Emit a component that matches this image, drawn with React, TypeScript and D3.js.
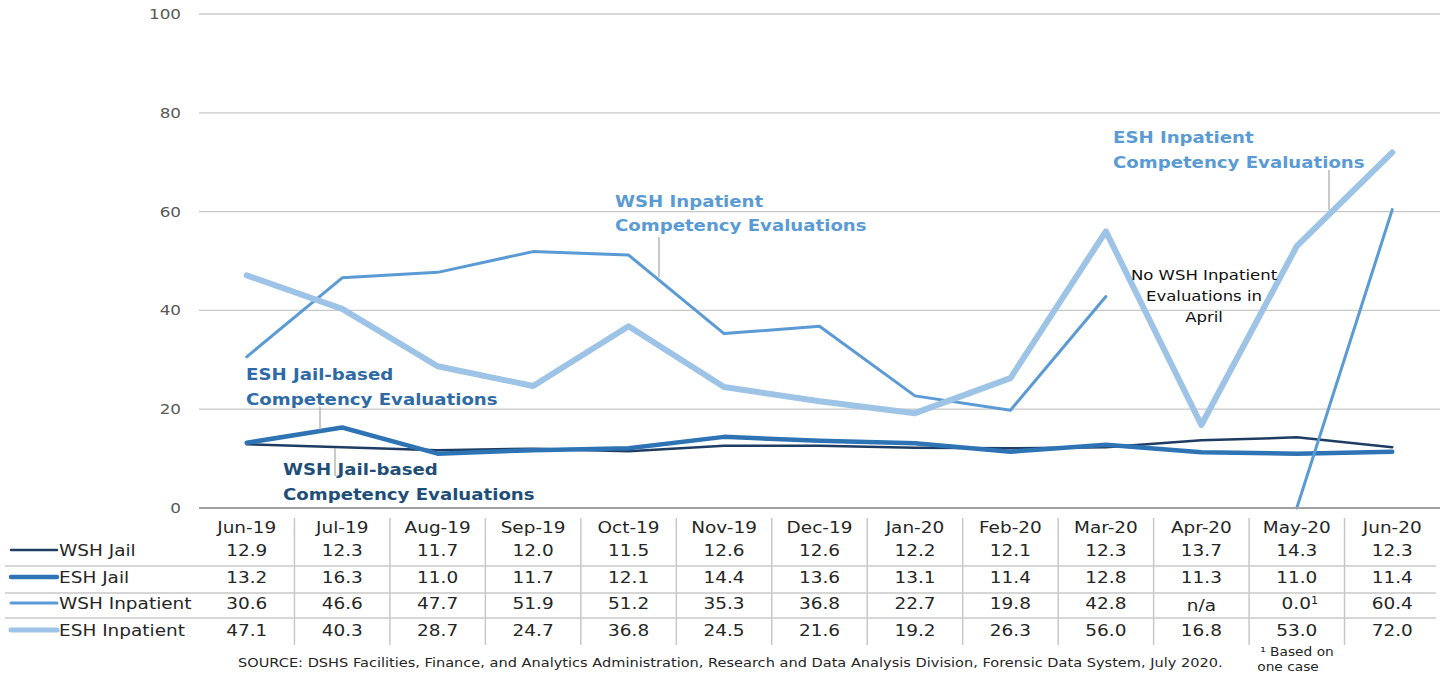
import React from "react"
import * as d3 from "d3"

// months along the x axis
const months = ["Jun-19", "Jul-19", "Aug-19", "Sep-19", "Oct-19", "Nov-19", "Dec-19", "Jan-20", "Feb-20", "Mar-20", "Apr-20", "May-20", "Jun-20"]

const wshJail = [12.9, 12.3, 11.7, 12.0, 11.5, 12.6, 12.6, 12.2, 12.1, 12.3, 13.7, 14.3, 12.3]
const eshJail = [13.2, 16.3, 11.0, 11.7, 12.1, 14.4, 13.6, 13.1, 11.4, 12.8, 11.3, 11.0, 11.4]
const wshInpatient: (number | null)[] = [30.6, 46.6, 47.7, 51.9, 51.2, 35.3, 36.8, 22.7, 19.8, 42.8, null, 0.0, 60.4]
const eshInpatient = [47.1, 40.3, 28.7, 24.7, 36.8, 24.5, 21.6, 19.2, 26.3, 56.0, 16.8, 53.0, 72.0]

const yTicks = [0, 20, 40, 60, 80, 100]

const series = [
  { name: "WSH Jail", values: wshJail, color: "#1f3d63", width: 2.5 },
  { name: "ESH Jail", values: eshJail, color: "#2e74b5", width: 4.5 },
  { name: "WSH Inpatient", values: wshInpatient, color: "#5b9bd5", width: 3 },
  { name: "ESH Inpatient", values: eshInpatient, color: "#9dc3e6", width: 6 },
]

const W = 1452
const H = 677
const font = "'DejaVu Sans', sans-serif"

// text that is a bit wider than the font draws it (the original looks horizontally stretched)
function T({ x, y, sx = 1.12, children, ...rest }: any) {
  return (
    <text transform={`translate(${x},${y}) scale(${sx},1)`} {...rest}>
      {children}
    </text>
  )
}

export default function App() {
  const x = d3.scaleBand<string>().domain(months).range([199, 1440])
  const y = d3.scaleLinear().domain([0, 100]).range([508, 14])
  const cx = (m: string) => (x(m) ?? 0) + x.bandwidth() / 2

  const line = d3
    .line<number | null>()
    .defined(d => d != null)
    .x((_, i) => cx(months[i]))
    .y(d => y(d as number))

  const fmt = (v: number | null) => (v == null ? "n/a" : v.toFixed(1))

  // table rows
  const headerY = 527
  const rowY = [550, 577, 603, 630]
  const sepY = [566, 593, 618]

  return (
    <svg width={W} height={H} style={{ position: "absolute", left: 0, top: 0, background: "#fff" }} fontFamily={font}>
      {/* grid */}
      {yTicks.map(t => (
        <g key={t}>
          {t > 0 && <line x1={199} x2={1440} y1={y(t)} y2={y(t)} stroke="#c8c8c8" strokeWidth={1.3} />}
          <T x={181} y={y(t)} sx={1.2} dy="0.35em" textAnchor="end" fontSize={14} fill="#595959">{t}</T>
        </g>
      ))}

      {/* series lines */}
      {series.map(s => (
        <path key={s.name} d={line(s.values) ?? ""} fill="none" stroke={s.color} strokeWidth={s.width} strokeLinejoin="round" strokeLinecap="round" />
      ))}

      {/* axis baseline */}
      <line x1={199} x2={1440} y1={y(0)} y2={y(0)} stroke="#a0a0a0" strokeWidth={2} />

      {/* annotations */}
      <g fontWeight="bold" fontSize={16.5}>
        <T x={615} y={207} sx={1.1} fill="#5b9bd5">WSH Inpatient</T>
        <T x={615} y={231} sx={1.1} fill="#5b9bd5">Competency Evaluations</T>
        <line x1={659} x2={659} y1={237} y2={277} stroke="#a6a6a6" strokeWidth={1.2} />

        <T x={1113} y={143} sx={1.1} fill="#5b9bd5">ESH Inpatient</T>
        <T x={1113} y={168} sx={1.1} fill="#5b9bd5">Competency Evaluations</T>
        <line x1={1329} x2={1329} y1={170} y2={210} stroke="#a6a6a6" strokeWidth={1.2} />

        <T x={246} y={380} sx={1.1} fill="#2e6aa6">ESH Jail-based</T>
        <T x={246} y={405} sx={1.1} fill="#2e6aa6">Competency Evaluations</T>
        <line x1={320} x2={320} y1={407} y2={430} stroke="#a6a6a6" strokeWidth={1.2} />

        <T x={283} y={475} sx={1.1} fill="#1f4e79">WSH Jail-based</T>
        <T x={283} y={500} sx={1.1} fill="#1f4e79">Competency Evaluations</T>
        <line x1={335} x2={335} y1={448} y2={476} stroke="#a6a6a6" strokeWidth={1.2} />
      </g>
      <g fontSize={14} fill="#111" textAnchor="middle">
        <T x={1204} y={280} sx={1.18}>No WSH Inpatient</T>
        <T x={1204} y={301} sx={1.18}>Evaluations in</T>
        <T x={1204} y={322} sx={1.18}>April</T>
      </g>

      {/* data table */}
      {months.slice(1).map(m => (
        <line key={m} x1={x(m)} x2={x(m)} y1={518} y2={645} stroke="#c8c8c8" strokeWidth={1.5} />
      ))}
      {sepY.map(sy => (
        <line key={sy} x1={5} x2={1436} y1={sy} y2={sy} stroke="#c8c8c8" strokeWidth={1.5} />
      ))}
      <g fontSize={16.5} fill="#262626">
        {months.map(m => (
          <T key={m} x={cx(m)} y={headerY} dy="0.35em" textAnchor="middle">{m}</T>
        ))}
        {series.map((s, r) => (
          <g key={s.name}>
            <line x1={11} x2={57} y1={rowY[r]} y2={rowY[r]} stroke={s.color} strokeWidth={Math.min(s.width, 5)} strokeLinecap="round" />
            <T x={59} y={rowY[r]} dy="0.35em">{s.name}</T>
            {s.values.map((v, i) => (
              <T key={i} x={cx(months[i]) + (i === 11 && r === 2 ? 3 : 0)} y={rowY[r] + (v == null ? 2 : 0)} dy="0.35em" textAnchor="middle">
                {fmt(v)}
                {i === 11 && r === 2 && <tspan dy="-5" fontSize={10}>1</tspan>}
              </T>
            ))}
          </g>
        ))}
      </g>

      {/* footnote + source */}
      <g fontSize={12.5} fill="#262626">
        <T x={1297} y={656} sx={1.1} textAnchor="middle">¹ Based on</T>
        <T x={1288} y={671} sx={1.1} textAnchor="middle">one case</T>
        <T x={238} y={667} sx={1.166}>SOURCE: DSHS Facilities, Finance, and Analytics Administration, Research and Data Analysis Division, Forensic Data System, July 2020.</T>
      </g>
    </svg>
  )
}
